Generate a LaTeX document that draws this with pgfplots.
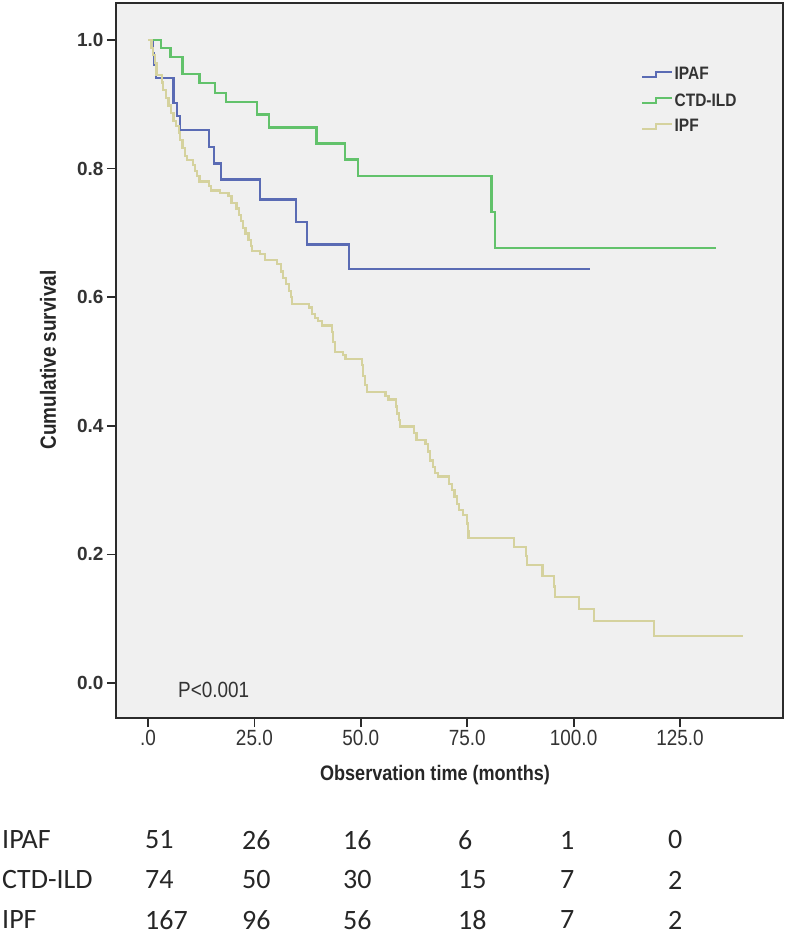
\documentclass[border=0pt]{standalone}
\usepackage{pgfplots}
\pgfplotsset{compat=1.18}
\usepackage{fontspec}
\setmainfont{Liberation Sans}
\newfontfamily\narrow[FakeStretch=0.86]{Liberation Sans}
\newfontfamily\calib{Carlito}
\definecolor{bgc}{HTML}{F0F0F0}
\definecolor{framec}{HTML}{2B2B2B}
\definecolor{labc}{HTML}{333333}
\definecolor{ipafc}{HTML}{5A6BB4}
\definecolor{ctdc}{HTML}{62C26B}
\definecolor{ipfc}{HTML}{D5D29E}
\begin{document}
\begin{tikzpicture}
\useasboundingbox (-116pt,-226pt) rectangle (671pt,718pt);
\begin{axis}[
  scale only axis, width=667pt, height=715pt,
  xmin=-7.52, xmax=149.2, ymin=-0.0544, ymax=1.0575,
  axis background/.style={fill=bgc},
  axis line style={draw=framec, line width=1.8pt},
  xtick={0,25,50,75,100,125}, xticklabels={.0,25.0,50.0,75.0,100.0,125.0},
  ytick={0,0.2,0.4,0.6,0.8,1}, yticklabels={0.0,0.2,0.4,0.6,0.8,1.0},
  tick align=outside, tick pos=left, major tick length=9pt,
  every tick/.append style={draw=framec, line width=1.8pt},
  xticklabel style={font=\narrow\fontsize{22}{24}\selectfont, text=labc},
  yticklabel style={font=\bfseries\fontsize{19}{22}\selectfont, text=labc},
  legend image code/.code={\draw[#1, line width=2pt] (0pt,-2.5pt) -- (14pt,-2.5pt) -- (14pt,2.5pt) -- (30pt,2.5pt);},
  legend style={draw=none, fill=none, at={(axis description cs:0.787,0.912)}, anchor=north west,
    inner sep=0pt, font=\narrow\bfseries\fontsize{18}{20}\selectfont, text=labc, row sep=9pt,
    nodes={inner sep=1.5pt}},
  legend cell align=left,
]
\addplot[const plot mark left, ipafc, line width=2.2pt] coordinates {
(0,1.0) (1.1,0.980) (1.4,0.961) (1.8,0.941) (6.0,0.902) (6.9,0.882) (7.5,0.860)
(14.4,0.834) (15.5,0.808) (17.1,0.783) (26.3,0.752) (34.8,0.717) (37.3,0.682)
(47.2,0.644) (103.9,0.644)};
\addlegendentry{IPAF}
\addplot[const plot mark left, ctdc, line width=2.2pt] coordinates {
(0,1.0) (3.0,0.987) (5.3,0.973) (8.1,0.947) (12.1,0.933) (15.7,0.918) (18.3,0.903)
(25.7,0.884) (28.5,0.864) (39.6,0.839) (46.3,0.814) (49.4,0.789) (80.7,0.733)
(81.5,0.677) (133.5,0.677)};
\addlegendentry{CTD-ILD}
\addplot[const plot mark left, ipfc, line width=2.2pt] coordinates {
(0,1.0) (0.8,0.988) (1.2,0.976) (1.6,0.964) (2.0,0.946) (3.2,0.934) (3.6,0.922)
(4.2,0.910) (4.8,0.898) (5.4,0.886) (6.0,0.874) (6.6,0.866) (7.2,0.856) (7.6,0.844)
(8.1,0.832) (8.6,0.820) (9.1,0.813) (10.5,0.806) (11.1,0.796) (11.6,0.788)
(12.1,0.780) (14.3,0.773) (14.8,0.766) (16.9,0.762) (18.9,0.757) (19.6,0.747)
(20.8,0.738) (21.3,0.728) (21.8,0.718) (22.4,0.708) (22.9,0.699) (23.6,0.689)
(24.2,0.680) (24.5,0.672) (26.3,0.667) (27.5,0.658) (30.3,0.652) (31.2,0.640)
(31.8,0.630) (32.5,0.620) (33.1,0.610) (33.6,0.600) (33.9,0.590) (37.8,0.584)
(38.5,0.574) (39.2,0.568) (40.0,0.563) (40.8,0.556) (43.3,0.546) (43.5,0.530)
(43.9,0.515) (45.9,0.510) (46.4,0.504) (50.3,0.494) (50.6,0.478) (51.0,0.464)
(51.4,0.452) (55.8,0.446) (56.5,0.441) (58.2,0.430) (58.5,0.419) (58.9,0.409)
(59.2,0.399) (62.5,0.389) (63.1,0.378) (65.2,0.372) (65.8,0.360) (66.3,0.346)
(66.9,0.336) (67.4,0.326) (68.2,0.321) (70.8,0.310) (71.4,0.300) (72.0,0.290)
(72.6,0.279) (73.0,0.269) (74.1,0.261) (74.9,0.248) (75.1,0.236) (75.3,0.225)
(86.0,0.212) (88.8,0.197) (89.0,0.183) (92.7,0.167) (95.4,0.150) (95.6,0.134)
(101.3,0.115) (104.8,0.097) (118.9,0.073) (139.8,0.073)};
\addlegendentry{IPF}
\end{axis}
% annotations and axis titles
\node[anchor=west, inner sep=0pt, font=\narrow\fontsize{22}{24}\selectfont, text=labc] at (62pt,28pt) {P<0.001};
\node[anchor=center, inner sep=0pt, font=\narrow\bfseries\fontsize{21}{24}\selectfont, text=black!85] at (319pt,-57pt) {Observation time (months)};
\node[anchor=center, rotate=90, inner sep=0pt, font=\narrow\bfseries\fontsize{22}{24}\selectfont, text=black!85] at (-68pt,358pt) {Cumulative survival};
% number at risk table
\begin{scope}[every node/.style={anchor=west, inner sep=0pt, font=\calib\fontsize{28}{30}\selectfont, text=black!85}]
\node at (-114pt,-122pt) {IPAF};
\node at (-114pt,-162pt) {CTD-ILD};
\node at (-114pt,-202pt) {IPF};
\foreach \v [count=\i] in {51,26,16,6,1,0} {
  \pgfmathsetmacro{\xx}{{29,126,227,342,444,552}[\i-1]}
  \node at (\xx pt,-122pt) {\v};
}
\foreach \v [count=\i] in {74,50,30,15,7,2} {
  \pgfmathsetmacro{\xx}{{29,126,227,342,444,552}[\i-1]}
  \node at (\xx pt,-162pt) {\v};
}
\foreach \v [count=\i] in {167,96,56,18,7,2} {
  \pgfmathsetmacro{\xx}{{29,126,227,342,444,552}[\i-1]}
  \node at (\xx pt,-202pt) {\v};
}
\end{scope}
\end{tikzpicture}
\end{document}
